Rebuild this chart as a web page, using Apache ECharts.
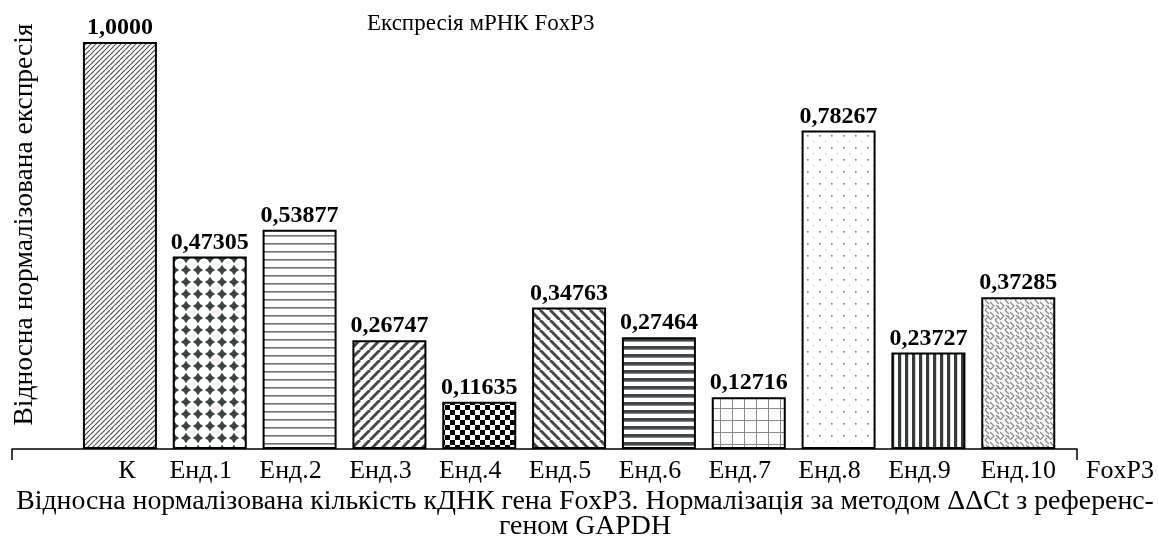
<!DOCTYPE html>
<html><head><meta charset="utf-8">
<script src="https://cdn.jsdelivr.net/npm/echarts@6/dist/echarts.min.js"></script>
<style>html,body{margin:0;padding:0;background:#fff}#c{width:1158px;height:547px}</style>
</head><body><div id="c"></div>
<script>
const categories = ['К','Енд.1','Енд.2','Енд.3','Енд.4','Енд.5','Енд.6','Енд.7','Енд.8','Енд.9','Енд.10'];
const values = [1.0000, 0.47305, 0.53877, 0.26747, 0.11635, 0.34763, 0.27464, 0.12716, 0.78267, 0.23727, 0.37285];
const geneName = 'FoxP3';
const chartTitle = 'Експресія мРНК FoxP3';
const yName = 'Відносна нормалізована експресія';
const xNameLines = ['Відносна нормалізована кількість кДНК гена FoxP3. Нормалізація за методом ΔΔCt з референс-', 'геном GAPDH'];

const FONT = '"Liberation Serif", "DejaVu Serif", serif';

function pat(size, draw) {
  const c = document.createElement('canvas');
  c.width = size; c.height = size;
  const g = c.getContext('2d');
  g.fillStyle = '#fff'; g.fillRect(0, 0, size, size);
  draw(g, size);
  return { image: c, repeat: 'repeat' };
}
function diag(g, s, w, col, up) {
  g.strokeStyle = col; g.lineWidth = w;
  for (let k = -1; k <= 1; k++) {
    g.beginPath();
    if (up) { g.moveTo(k * s, s); g.lineTo(k * s + s, 0); }
    else { g.moveTo(k * s, 0); g.lineTo(k * s + s, s); }
    g.stroke();
  }
}
const patterns = [
  pat(5, (g, s) => { diag(g, s, 1.2, '#505050', true); }),
  pat(12, (g, s) => { g.fillStyle = '#3c4545'; g.beginPath(); g.moveTo(6, 0.8); g.quadraticCurveTo(7.5, 4.5, 11.2, 6); g.quadraticCurveTo(7.5, 7.5, 6, 11.2); g.quadraticCurveTo(4.5, 7.5, 0.8, 6); g.quadraticCurveTo(4.5, 4.5, 6, 0.8); g.fill(); }),
  pat(8, (g, s) => { g.fillStyle = '#707070'; g.fillRect(0, 3, s, 1.6); }),
  pat(10, (g, s) => { diag(g, s, 3, '#474747', true); }),
  pat(10, (g, s) => { g.fillStyle = '#000'; g.fillRect(0, 0, 5, 5); g.fillRect(5, 5, 5, 5); }),
  pat(10, (g, s) => { diag(g, s, 3, '#474747', false); }),
  pat(8, (g, s) => { g.fillStyle = '#3f4747'; g.fillRect(0, 2, s, 3.6); }),
  pat(12, (g, s) => { g.fillStyle = '#8a8a8a'; g.fillRect(0, 0, s, 1); g.fillRect(0, 0, 1, s); }),
  pat(12, (g, s) => { g.fillStyle = '#777'; g.fillRect(3, 3, 1.6, 1.6); g.fillStyle = '#c4c4c4'; g.fillRect(9, 9, 1.2, 1.2); }),
  pat(7, (g, s) => { g.fillStyle = '#333b3b'; g.fillRect(2, 0, 3.2, s); }),
  pat(10, (g, s) => { g.strokeStyle = '#8c8c8c'; g.lineWidth = 1.3; g.beginPath(); g.moveTo(0, 2); g.lineTo(4, 6); g.lineTo(0, 10); g.moveTo(5, 0); g.lineTo(9, 4); g.moveTo(6, 5); g.lineTo(10, 9); g.moveTo(5, 10); g.lineTo(9, 6); g.stroke(); })
];

const labelPad = i => (i === 0 ? [0, 0, 0, 14] : (i === categories.length - 1 ? [0, 0, 0, 0] : [0, 18, 0, 0]));
const axisData = categories.map((c, i) => ({ value: c, textStyle: { padding: labelPad(i) } }));
axisData.push({ value: geneName, textStyle: { padding: [0, 0, 0, 24] } });

const chart = echarts.init(document.getElementById('c'), null, { renderer: 'canvas' });
chart.setOption({
  animation: false,
  backgroundColor: '#fff',
  textStyle: { fontFamily: FONT, color: '#000' },
  title: [
    { text: chartTitle, left: 362, top: 7, textStyle: { fontFamily: FONT, fontWeight: 'normal', fontSize: 23, color: '#000' } },
    { text: xNameLines.join('\n'), left: 580, top: 484, textAlign: 'center', textStyle: { fontFamily: FONT, fontWeight: 'normal', fontSize: 27.8, lineHeight: 25, color: '#000' } }
  ],
  grid: [
    { left: 75, width: 1078, top: 42, bottom: 98 },
    { left: 12, width: 1065, top: -11, bottom: 98 }
  ],
  xAxis: [
    { type: 'category', gridIndex: 0, data: axisData, axisLine: { show: false }, axisTick: { show: false },
      axisLabel: { margin: 9, fontSize: 26, color: '#000', fontFamily: FONT, interval: 0 } },
    { type: 'category', gridIndex: 1, data: [geneName], boundaryGap: true,
      axisLine: { lineStyle: { color: '#000', width: 1.5 } },
      axisTick: { show: true, length: 11, lineStyle: { color: '#000', width: 1.5 } },
      axisLabel: { show: false } }
  ],
  yAxis: [
    { type: 'value', gridIndex: 0, min: 0, max: 1, show: false },
    { type: 'value', gridIndex: 1, min: 0, max: 1, axisLine: { show: false }, axisTick: { show: false }, axisLabel: { show: false }, splitLine: { show: false },
      name: yName, nameLocation: 'middle', nameGap: -27, nameTextStyle: { fontFamily: FONT, fontSize: 27.5, color: '#000' } }
  ],
  series: [{
    type: 'bar', xAxisIndex: 0, yAxisIndex: 0, barWidth: 74,
    data: values.map((v, i) => ({ value: v, itemStyle: { color: patterns[i], borderColor: '#000', borderWidth: 2 } })),
    label: { show: true, position: 'top', distance: 2, fontFamily: FONT, fontWeight: 'bold', fontSize: 24, color: '#000',
      formatter: p => (p.value === 1 ? '1,0000' : p.value.toFixed(5).replace('.', ',')) }
  }]
});
</script></body></html>
